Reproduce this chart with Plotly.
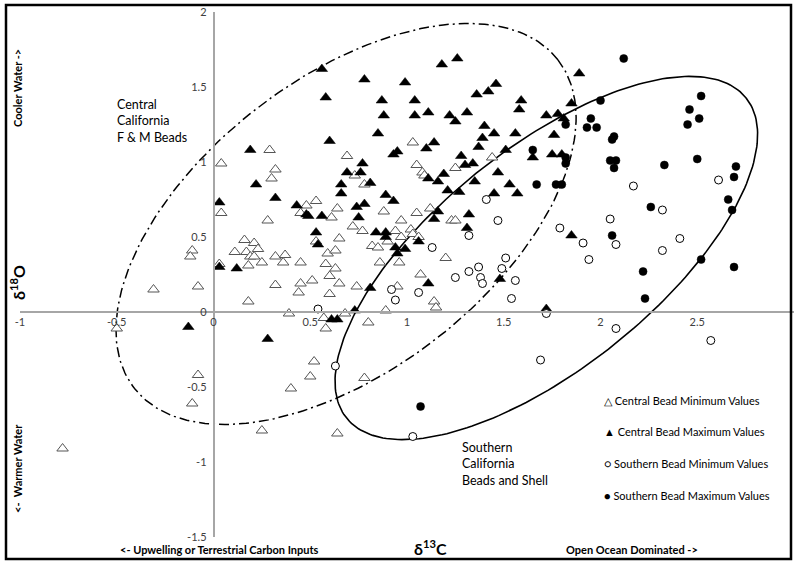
import numpy as np
import plotly.graph_objects as go

# ---------------- data (δ13C, δ18O) ----------------
central_min_x = [0.04, 0.29, 0.32, 0.30, 0.69, 0.73, 0.78, 1.03, 1.05, 1.08, 1.09, 1.25, 1.44, 0.04, 0.28,
                 0.48, 0.45, -0.11, -0.12, 0.16, 0.21, 0.11, 0.17, 0.23, 0.19, 0.21, 0.25, 0.18, 0.32, 0.37,
                 0.36, 0.45, -0.08, 0.32, 0.45, 0.44, 0.18, 0.39, 0.03, -0.31, -0.50, -0.08, -0.11, -0.78,
                 0.25, 0.40, 0.50, 0.52, 0.78, 0.64, 0.59, 0.63, 0.58, 0.63, 0.86, 0.96, 1.20, 0.51, 0.60,
                 0.65, 0.60, 0.74, 0.95, 1.07, 1.14, 1.15, 0.57, 0.58, 0.68, 0.89, 0.80, 0.53, 0.64, 0.61,
                 0.88, 1.05, 1.12, 1.23, 1.25, 0.97, 0.72, 0.77, 0.94, 1.02, 1.03, 1.06, 0.97, 0.65, 0.53,
                 0.82, 0.85, 0.90]
central_min_y = [0.99, 1.08, 0.95, 0.89, 1.04, 0.91, 0.85, 1.13, 0.98, 0.93, 0.91, 0.96, 1.03, 0.66, 0.61,
                 0.71, 0.66, 0.41, 0.37, 0.48, 0.46, 0.40, 0.40, 0.42, 0.37, 0.37, 0.33, 0.31, 0.37, 0.38,
                 0.33, 0.33, 0.17, 0.18, 0.19, 0.13, 0.07, -0.01, 0.32, 0.15, -0.11, -0.42, -0.61, -0.91,
                 -0.79, -0.51, -0.43, -0.33, -0.44, -0.81, 0.39, 0.41, 0.32, 0.29, 0.33, 0.33, 0.36, 0.21, 0.24,
                 0.19, 0.12, 0.17, 0.17, 0.25, 0.07, 0.03, -0.04, -0.11, -0.01, 0.01, -0.07, 0.74, 0.69, 0.63,
                 0.67, 0.66, 0.69, 0.61, 0.61, 0.61, 0.57, 0.54, 0.54, 0.55, 0.52, 0.50, 0.50, 0.49, 0.47,
                 0.44, 0.43, 0.47]

central_max_x = [0.56, 0.58, 0.78, 0.87, 0.88, 0.85, 0.60, 0.99, 1.04, 1.04, 1.11, 1.18, 1.26, 1.22, 1.25,
                 1.31, 1.36, 1.42, 1.46, 1.59, 1.58, 1.40, 1.45, 1.56, 1.39, 1.37, 1.51, 1.14, 1.10, 0.95,
                 0.93, 1.28, 1.30, 1.34, 0.77, 0.69, 0.76, 0.81, 0.66, 1.11, 1.19, 1.16, 1.35, 1.47, 1.53,
                 1.21, 1.89, 1.85, 1.72, 1.78, 1.81, 1.76, 1.65, 1.75, 1.80, 1.27, 1.45, 1.57, 1.32, 1.31,
                 1.85, 1.48, 1.72, 1.16, 0.66, 0.32, 0.43, 0.49, 0.56, 0.74, 0.78, 0.75, 0.89, 0.93, 1.14,
                 0.53, 0.54, 0.84, 0.89, 0.89, 1.06, 0.94, 0.99, 0.95, 0.19, 0.22, 0.03, 0.48, 0.03, 0.12,
                 -0.13, 0.28, 0.81, 1.11, 0.73, 0.61, 0.64]
central_max_y = [1.62, 1.43, 1.55, 1.41, 1.31, 1.19, 1.14, 1.53, 1.41, 1.31, 1.33, 1.65, 1.69, 1.31, 1.27,
                 1.33, 1.45, 1.47, 1.52, 1.41, 1.35, 1.24, 1.19, 1.19, 1.16, 1.10, 1.08, 1.13, 1.09, 1.07,
                 1.05, 1.04, 0.98, 0.99, 0.99, 0.93, 0.93, 0.86, 0.85, 0.89, 0.92, 0.87, 0.87, 0.93, 0.85,
                 0.81, 1.59, 1.39, 1.31, 1.32, 1.29, 1.18, 1.03, 1.05, 1.05, 0.80, 0.79, 0.79, 0.65, 0.56,
                 0.51, 0.22, 0.02, 0.67, 0.79, 0.76, 0.71, 0.64, 0.64, 0.70, 0.72, 0.63, 0.78, 0.74, 0.62,
                 0.53, 0.45, 0.53, 0.53, 0.50, 0.47, 0.43, 0.42, 0.39, 1.08, 0.85, 0.73, 0.65, 0.30, 0.29,
                 -0.10, -0.18, 0.16, 0.19, 0.01, -0.05, -0.05]

southern_min_x = [2.17, 1.41, 1.47, 1.32, 2.05, 1.79, 1.91, 2.08, 1.94, 1.51, 1.49, 1.37, 1.32, 1.25, 1.38,
                  1.39, 1.56, 1.54, 1.72, 2.08, 2.61, 2.32, 2.41, 2.32, 2.57, 0.92, 0.94, 1.06, 0.54, 0.63,
                  1.03, 1.13, 1.69]
southern_min_y = [0.84, 0.75, 0.61, 0.51, 0.62, 0.56, 0.46, 0.45, 0.35, 0.36, 0.29, 0.30, 0.27, 0.23, 0.23,
                  0.19, 0.21, 0.09, -0.01, -0.11, 0.88, 0.68, 0.49, 0.41, -0.19, 0.15, 0.08, 0.13, 0.02, -0.36,
                  -0.83, 0.43, -0.32]

southern_max_x = [2.12, 2.00, 2.52, 2.46, 2.51, 2.45, 1.95, 1.93, 1.98, 1.82, 2.07, 2.06, 2.05, 2.08, 2.07,
                  2.33, 2.50, 2.70, 2.69, 1.65, 1.82, 1.82, 1.67, 1.77, 1.80, 2.66, 2.68, 2.26, 2.06, 2.52,
                  2.69, 2.22, 2.23, 1.07]
southern_max_y = [1.69, 1.41, 1.44, 1.35, 1.29, 1.25, 1.29, 1.23, 1.23, 1.25, 1.17, 1.15, 1.01, 1.01, 0.96,
                  0.98, 1.02, 0.97, 0.90, 1.08, 1.03, 0.99, 0.85, 0.85, 0.85, 0.75, 0.68, 0.70, 0.51, 0.35,
                  0.30, 0.27, 0.09, -0.63]

x_ticks = [-1, -0.5, 0, 0.5, 1, 1.5, 2, 2.5, 3]
x_tick_text = ["-1", "-0.5", "0", "0.5", "1", "1.5", "2", "2.5", "3"]
y_ticks = [-1.5, -1, -0.5, 0, 0.5, 1, 1.5, 2]
y_tick_text = ["-1.5", "-1", "-0.5", "0", "0.5", "1", "1.5", "2"]

legend_labels = ["Central Bead Minimum Values", "Central Bead Maximum Values",
                 "Southern Bead Minimum Values", "Southern Bead Maximum Values"]
legend_symbols = ["△", "▲", "○", "●"]

# ---------------- geometry ----------------
W, H = 794, 563
X_RANGE = [-1, 3]
Y_RANGE = [-1.5, 2]
M_L, M_R, M_T, M_B = 20, 0, 12, 26
PW, PH = W - M_L - M_R, H - M_T - M_B
SX = PW / (X_RANGE[1] - X_RANGE[0])   # px per unit x
SY = PH / (Y_RANGE[1] - Y_RANGE[0])   # px per unit y

FONT = "Lato, 'Open Sans', sans-serif"


def ellipse(cx, cy, a_px, b_px, theta_deg, n=240):
    t = np.linspace(0, 2 * np.pi, n)
    th = np.radians(theta_deg)
    dx = a_px * np.cos(t) * np.cos(th) - b_px * np.sin(t) * np.sin(th)
    dy = a_px * np.cos(t) * np.sin(th) + b_px * np.sin(t) * np.cos(th)
    return cx + dx / SX, cy + dy / SY


fig = go.Figure()

ex1, ey1 = ellipse(0.685, 0.587, 268, 146, 37.7)
fig.add_trace(go.Scatter(x=ex1, y=ey1, mode="lines", hoverinfo="skip", showlegend=False,
                         line=dict(color="black", width=1.5, dash="10px,4px,2px,4px")))
ex2, ey2 = ellipse(1.72, 0.36, 256, 110, 38.7)
fig.add_trace(go.Scatter(x=ex2, y=ey2, mode="lines", hoverinfo="skip", showlegend=False,
                         line=dict(color="black", width=1.6)))

fig.add_trace(go.Scatter(x=central_min_x, y=central_min_y, mode="markers", name=legend_labels[0],
                         marker=dict(symbol="triangle-up", size=10, color="white",
                                     line=dict(color="#555555", width=1))))
fig.add_trace(go.Scatter(x=central_max_x, y=central_max_y, mode="markers", name=legend_labels[1],
                         marker=dict(symbol="triangle-up", size=10, color="black",
                                     line=dict(color="black", width=0.5))))
fig.add_trace(go.Scatter(x=southern_min_x, y=southern_min_y, mode="markers", name=legend_labels[2],
                         marker=dict(symbol="circle", size=8, color="white",
                                     line=dict(color="black", width=1))))
fig.add_trace(go.Scatter(x=southern_max_x, y=southern_max_y, mode="markers", name=legend_labels[3],
                         marker=dict(symbol="circle", size=8, color="black",
                                     line=dict(color="black", width=0.5))))

axis_common = dict(showgrid=False, zeroline=False, showline=True, linecolor="#a6a6a6", linewidth=1.5,
                   ticks="", tickfont=dict(family=FONT, size=11, color="#404040"), anchor="free")
fig.update_xaxes(range=X_RANGE, tickvals=x_ticks, ticktext=x_tick_text,
                 position=(0 - Y_RANGE[0]) / (Y_RANGE[1] - Y_RANGE[0]), **axis_common)
fig.update_yaxes(range=Y_RANGE, tickvals=y_ticks, ticktext=y_tick_text, ticklabelstandoff=4,
                 position=(0 - X_RANGE[0]) / (X_RANGE[1] - X_RANGE[0]), **axis_common)

ann = []


def text(px, py, s, size=12, bold=False, angle=0, xanchor="center", align="center"):
    if bold:
        s = "<b>" + s + "</b>"
    ann.append(dict(x=(px - M_L) / PW, y=(H - M_B - py) / PH, xref="paper", yref="paper", text=s,
                    showarrow=False, textangle=angle, xanchor=xanchor, yanchor="middle", align=align,
                    font=dict(family=FONT, size=size, color="black")))


text(17, 88, "Cooler Water ->", 11, True, -90)
text(17, 283, "δ<sup>18</sup>O", 16, True, -90)
text(17, 469, "<-  Warmer Water", 11, True, -90)
text(220, 549, "<- Upwelling or Terrestrial Carbon Inputs", 11, True)
text(430, 547, "δ<sup>13</sup>C", 16, True)
text(632, 549, "Open Ocean Dominated ->", 11, True)
text(115, 121, "Central<br>California<br>F & M Beads", 12.5, False, 0, "left", "left")
text(460, 464, "Southern<br>California<br>Beads and Shell", 12.5, False, 0, "left", "left")
for i, (sym, lab) in enumerate(zip(legend_symbols, legend_labels)):
    text(602, 400 + 31.7 * i, sym + " " + lab, 11, False, 0, "left", "left")

fig.update_layout(
    width=W, height=H, margin=dict(l=M_L, r=M_R, t=M_T, b=M_B),
    paper_bgcolor="white", plot_bgcolor="white", showlegend=False,
    annotations=ann,
    shapes=[dict(type="rect", xref="paper", yref="paper",
                 x0=(6 - M_L) / PW, x1=(791 - M_L) / PW,
                 y0=(H - M_B - 559) / PH, y1=(H - M_B - 5) / PH,
                 line=dict(color="black", width=2.5), layer="above")],
)

fig.write_html("out.html", config={"displayModeBar": False},
               post_script="document.body.style.margin='0';document.body.style.overflow='hidden';")
